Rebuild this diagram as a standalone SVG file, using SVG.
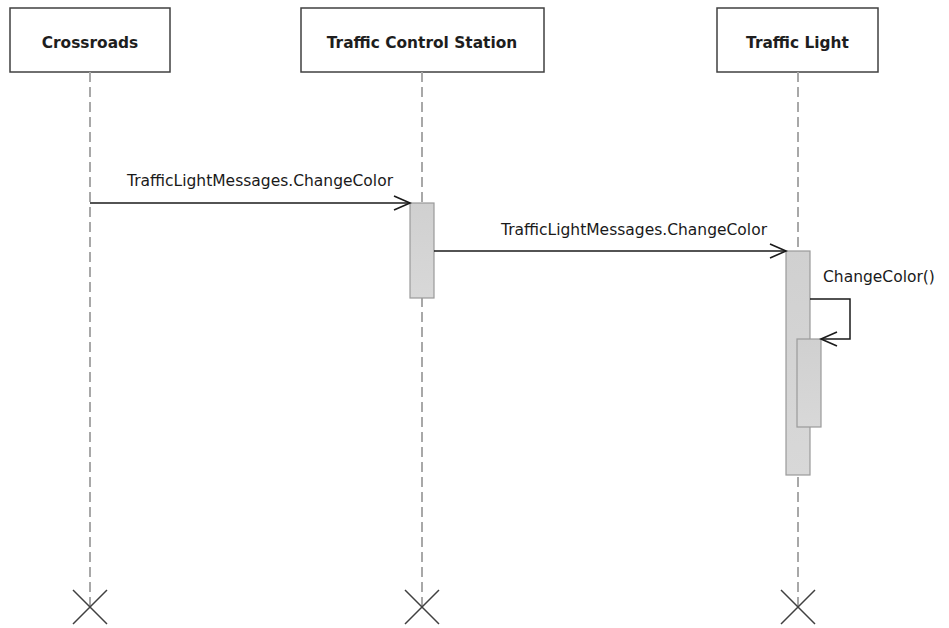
<svg xmlns="http://www.w3.org/2000/svg" width="949" height="628" viewBox="0 0 949 628">
<defs>
<linearGradient id="act" x1="0" y1="0" x2="0" y2="1">
<stop offset="0" stop-color="#d0d0d0"/>
<stop offset="1" stop-color="#d8d8d8"/>
</linearGradient>
<marker id="open" markerWidth="20" markerHeight="20" viewBox="0 0 20 20" refX="17" refY="8" orient="auto" markerUnits="userSpaceOnUse">
<path d="M1,1 L17,8 L1,15" fill="none" stroke="#1a1a1a" stroke-width="1.6"/>
</marker>
<style>
.head{fill:#fff;stroke:#404040;stroke-width:1.5}
.htxt{font-family:"DejaVu Sans",Verdana,sans-serif;font-weight:bold;font-size:15.4px;fill:#1e1e1e;text-anchor:middle}
.life{stroke:#a8a8a8;stroke-width:2;stroke-dasharray:10,5;fill:none}
.x{stroke:#404040;stroke-width:1.5}
.act{fill:url(#act);stroke:#9a9a9a;stroke-width:1.2}
.msg{stroke:#1a1a1a;stroke-width:1.5;fill:none}
.mtxt{font-family:"DejaVu Sans",Verdana,sans-serif;font-size:15.5px;fill:#1a1a1a}
</style>
</defs>
<rect width="949" height="628" fill="#fff"/>
<g id="crossroads">
<rect class="head" x="10" y="8" width="160" height="64"/>
<text class="htxt" x="90" y="48">Crossroads</text>
<line class="life" x1="90" y1="72" x2="90" y2="607"/>
<path class="x" d="M73,590 L107,624 M107,590 L73,624"/>
</g>
<g id="traffic-control-station">
<rect class="head" x="301" y="8" width="243" height="64"/>
<text class="htxt" x="422" y="48">Traffic Control Station</text>
<line class="life" x1="422" y1="72" x2="422" y2="607"/>
<path class="x" d="M405,590 L439,624 M439,590 L405,624"/>
<rect class="act" x="410" y="203" width="24" height="95"/>
</g>
<g id="traffic-light">
<rect class="head" x="717" y="8" width="161" height="64"/>
<text class="htxt" x="797.5" y="48">Traffic Light</text>
<line class="life" x1="798" y1="72" x2="798" y2="607"/>
<path class="x" d="M781,590 L815,624 M815,590 L781,624"/>
<rect class="act" x="786" y="251" width="24" height="224"/>
<rect class="act" x="797" y="339" width="24" height="88"/>
</g>
<g id="connectors">
<line class="msg" x1="90" y1="203" x2="410" y2="203" marker-end="url(#open)"/>
<text class="mtxt" x="260" y="186" text-anchor="middle">TrafficLightMessages.ChangeColor</text>
<line class="msg" x1="434" y1="251" x2="786" y2="251" marker-end="url(#open)"/>
<text class="mtxt" x="634" y="235" text-anchor="middle">TrafficLightMessages.ChangeColor</text>
<polyline class="msg" points="810,299 850,299 850,339 821,339" marker-end="url(#open)"/>
<text class="mtxt" x="823" y="282">ChangeColor()</text>
</g>
</svg>
